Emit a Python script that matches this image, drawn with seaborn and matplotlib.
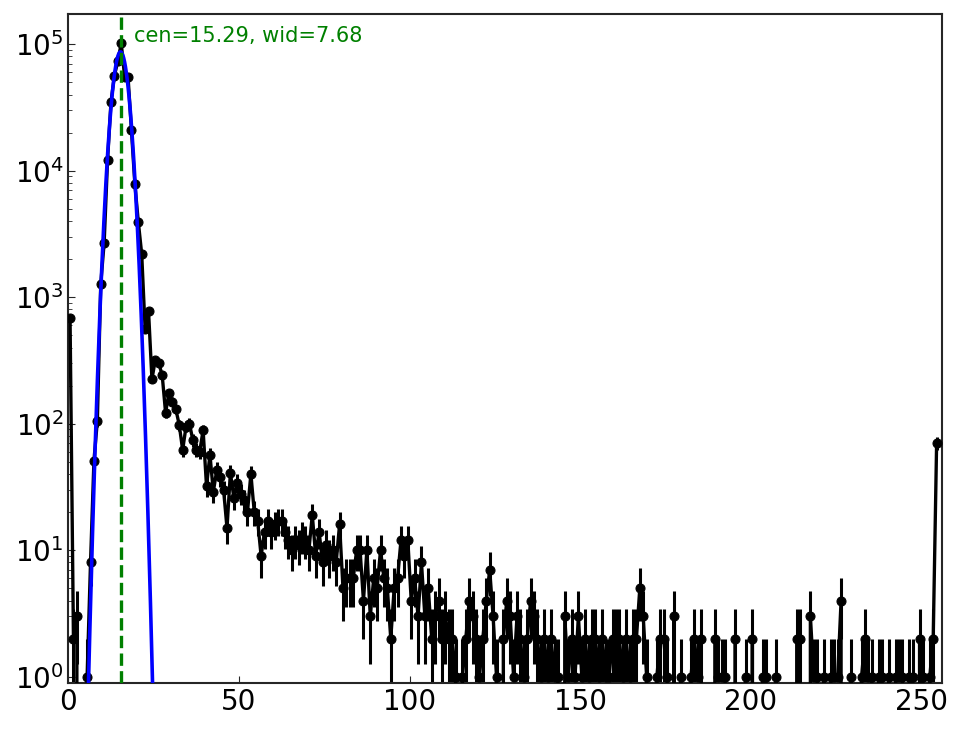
import numpy as np
import pandas as pd
import matplotlib
matplotlib.use("Agg")
import matplotlib.pyplot as plt
import seaborn as sns

# counts per channel
counts = [
    680, 2, 3, 0, 0, 1, 8, 51, 105, 1280,
    2700, 12200, 35000, 56500, 73000, 102000, 55000, 55000, 21000, 7800,
    3950, 2200, 560, 780, 225, 320, 300, 243, 122, 176,
    149, 130, 98, 62, 95, 100, 74, 62, 60, 89,
    32, 57, 29, 43, 38, 30, 15, 41, 26, 34,
    28, 25, 20, 40, 20, 17, 9, 14, 17, 14,
    16, 17, 17, 14, 12, 10, 12, 11, 13, 12,
    10, 19, 9, 14, 8, 11, 9, 10, 8, 16,
    5, 6, 6, 6, 10, 10, 4, 10, 3, 6,
    5, 10, 6, 5, 2, 5, 6, 12, 9, 12,
    4, 6, 3, 8, 3, 5, 2, 3, 4, 2,
    3, 2, 2, 1, 0, 1, 2, 4, 3, 2,
    1, 2, 4, 7, 3, 1, 0, 2, 4, 3,
    1, 3, 2, 1, 2, 4, 3, 2, 1, 2,
    1, 2, 1, 1, 0, 3, 1, 2, 1, 3,
    1, 2, 1, 2, 2, 1, 2, 1, 1, 2,
    2, 2, 1, 2, 1, 2, 2, 5, 3, 1,
    0, 0, 1, 2, 2, 1, 0, 3, 0, 1,
    0, 0, 1, 2, 1, 2, 0, 0, 0, 2,
    1, 1, 1, 0, 0, 2, 0, 0, 1, 0,
    2, 0, 0, 1, 1, 0, 0, 1, 0, 0,
    0, 0, 0, 2, 2, 0, 0, 3, 1, 1,
    0, 1, 0, 1, 1, 1, 4, 0, 0, 1,
    0, 0, 1, 2, 1, 1, 0, 1, 1, 0,
    1, 0, 1, 1, 1, 0, 1, 1, 0, 2,
    1, 0, 1, 2, 70,
]
channel = np.arange(len(counts)) + 0.5

# gaussian fit result
fit_amp = 87000
fit_cen = 15.29
fit_wid = 7.68

sns.set_style("ticks")

df = pd.DataFrame({"channel": channel, "counts": counts})
xfit = np.linspace(0, 256, 3000)
fit_df = pd.DataFrame({"x": xfit, "y": fit_amp * np.exp(-(xfit - fit_cen) ** 2 / fit_wid)})

fig = plt.figure(figsize=(9.64, 7.29), dpi=100)
ax = fig.add_axes([0.0709, 0.0627, 0.906, 0.918])

ax.errorbar(df["channel"], df["counts"], yerr=np.sqrt(df["counts"]), fmt="none",
            ecolor="black", elinewidth=2.2, zorder=2)
sns.lineplot(data=df, x="channel", y="counts", color="black", lw=2.4,
             marker="o", markersize=6.5, markeredgecolor="black", ax=ax, zorder=3)
sns.lineplot(data=fit_df, x="x", y="y", color="blue", lw=2.6, ax=ax, zorder=4)
ax.axvline(fit_cen, color="green", ls="--", lw=2.4, zorder=5)

ax.set_yscale("log")
ax.set_xlim(0, 256)
ax.set_ylim(0.887, 1.73e5)
ax.text(fit_cen + 3.9, 1.16e5, f"cen={fit_cen:.2f}, wid={fit_wid:.2f}",
        color="green", fontsize=15, va="center", ha="left")

ax.set_xlabel("")
ax.set_ylabel("")
ax.tick_params(axis="both", which="both", direction="in", labelsize=20,
               labelcolor="black", color="#262626")
ax.tick_params(which="major", length=5)
ax.tick_params(which="minor", length=3)
for s in ax.spines.values():
    s.set_linewidth(1.5)
    s.set_color("#262626")

fig.savefig("out.png", dpi=100)
